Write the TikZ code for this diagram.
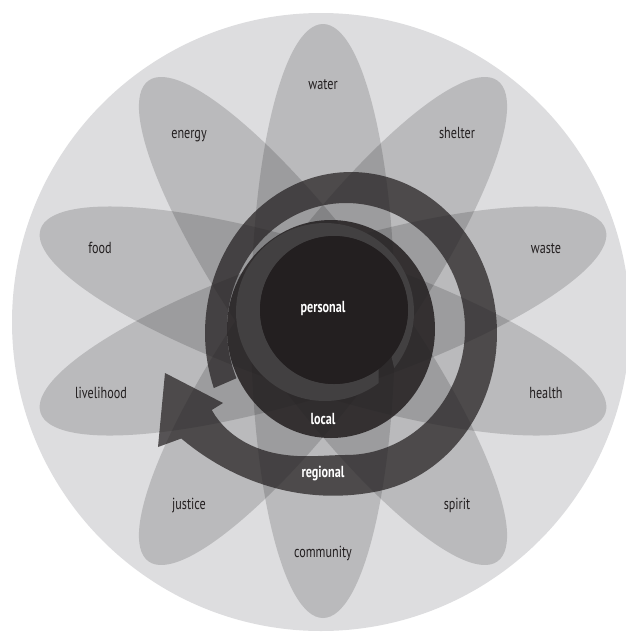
\documentclass[tikz,border=0pt]{standalone}
\usepackage{fontspec}
\setmainfont{PT Sans}[FakeStretch=0.76]
\definecolor{ink}{RGB}{35,31,32}
\definecolor{bgc}{RGB}{221,221,223}
\definecolor{cres}{RGB}{66,64,65}
\begin{document}
\begin{tikzpicture}[x=1pt,y=-1pt,
  declare function={go(\t)=50*(max(\t-440,0)/70)^2;
                    uu(\t)=max(\t-450,0)/60;
                    gi(\t)=36*(3*uu(\t)^2-2*uu(\t)^3);},
  petal/.style={black,fill opacity=.155},
  lab/.style={font=\fontsize{16}{18}\selectfont,text=ink,anchor=base,inner sep=0pt},
  clab/.style={lab,text=white,font=\fontsize{16}{18}\selectfont\bfseries}]
\useasboundingbox (0,0) rectangle (626,633);
% background disc
\fill[bgc] (321,322) circle[radius=309pt];
% petals
\foreach \a in {90,54,18,-18,-54}
  \fill[petal,rotate around={\a:(323,321)}] (323,321) ellipse[x radius=297pt,y radius=72pt];
% regional spiral arrow
\fill[ink,fill opacity=.72]
  plot[domain=160:510,samples=150,variable=\t]
    ({351+(146+go(\t))*cos(\t)},{333+(161+go(\t))*sin(\t)})
  -- (158,447) -- (165,373) -- (223,403)
  -- plot[domain=510:157,samples=150,variable=\t]
    ({346+(119+gi(\t))*cos(\t)},{329+(126+gi(\t))*sin(\t)})
  -- cycle;
% local disc
\fill[ink,fill opacity=.86] (331,329) ellipse[x radius=104pt,y radius=109pt];
% local crescent
\fill[cres]
  plot[domain=53:399,samples=120,variable=\t] ({325+89*cos(\t)},{312+89*sin(\t)})
  -- plot[domain=399:53,samples=120,variable=\t] ({334+74*cos(\t)},{310+74*sin(\t)})
  -- cycle;
% personal core
\fill[ink] (334,310) circle[radius=74pt];
% petal labels
\node[lab] (water) at (323,89) {water};
\node[lab] (shelter) at (457,138) {shelter};
\node[lab] (waste) at (546,253) {waste};
\node[lab] (health) at (546,398) {health};
\node[lab] (spirit) at (457,509) {spirit};
\node[lab] (community) at (323,557) {community};
\node[lab] (justice) at (189,509) {justice};
\node[lab] (livelihood) at (101,398) {livelihood};
\node[lab] (food) at (100,253) {food};
\node[lab] (energy) at (189,138) {energy};
% centre labels
\node[clab] (personal) at (323,312) {personal};
\node[clab] (local) at (323,424) {local};
\node[clab] (regional) at (323,477) {regional};
\end{tikzpicture}
\end{document}
